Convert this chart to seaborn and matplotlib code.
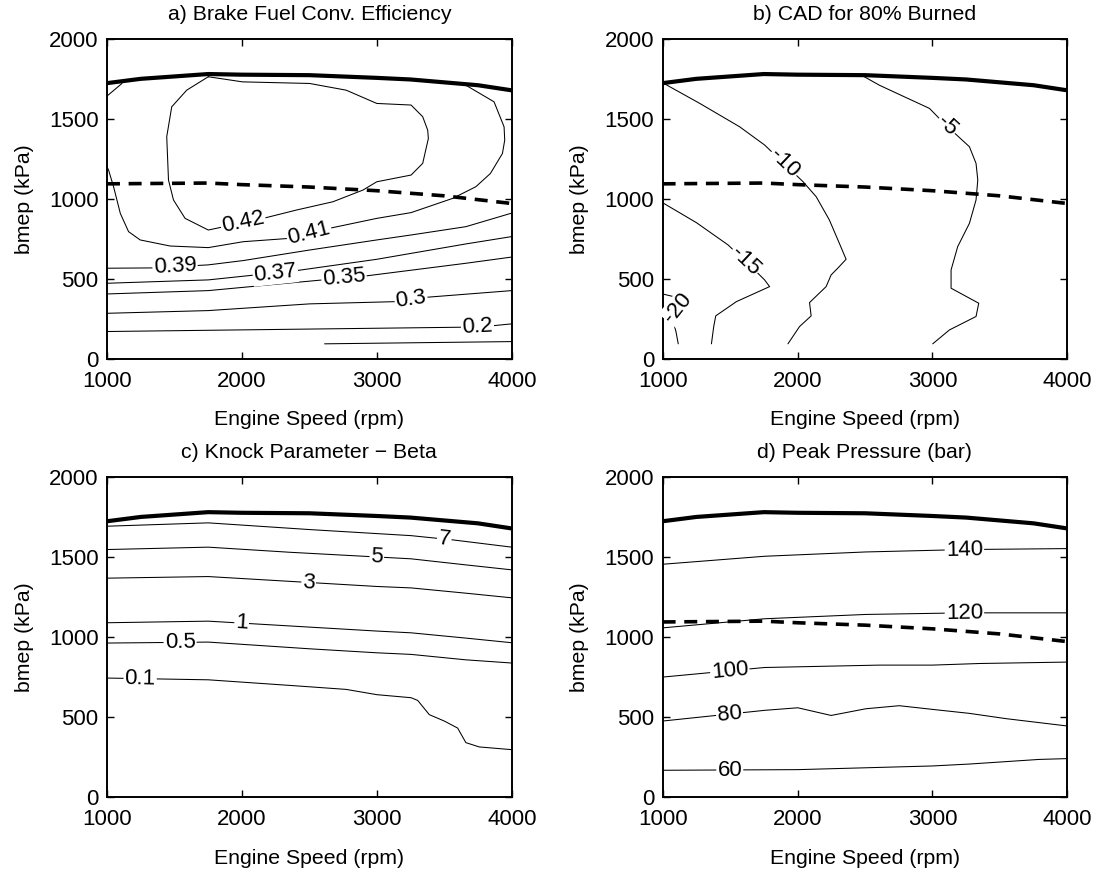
import numpy as np
import matplotlib
matplotlib.use("Agg")
import matplotlib.pyplot as plt
import seaborn as sns

# ---------------- data ----------------
speed_ticks = [1000, 2000, 3000, 4000]
bmep_ticks = [0, 500, 1000, 1500, 2000]

# full-load (max bmep) line -- thick solid
maxload_x = [1000, 1250, 1750, 2000, 2500, 3000, 3250, 3500, 3750, 4000]
maxload_y = [1725, 1752, 1782, 1778, 1775, 1758, 1748, 1730, 1712, 1680]

# dashed boundary line
dashed_x = [1000, 1750, 2000, 2500, 3000, 3500, 4000]
dashed_y = [1095, 1100, 1090, 1075, 1052, 1020, 972]

# a) Brake fuel conversion efficiency contours
a_042_x = [1751, 1591, 1480, 1443, 1456, 1493, 1579, 1751, 2158, 2404, 2675, 2897, 3000, 3254, 3340, 3382, 3377, 3340, 3254, 3000, 2773, 2502, 2005, 1751]
a_042_y = [1765, 1681, 1577, 1390, 1119, 994, 879, 806, 879, 931, 983, 1056, 1108, 1150, 1223, 1379, 1431, 1515, 1588, 1598, 1681, 1723, 1733, 1765]
a_041a_x = [1000, 1111]
a_041a_y = [1644, 1723]
a_041b_x = [3660, 3869, 3943, 3948, 3931, 3842, 3734, 3562, 3254, 3000, 2650, 2355, 2010, 1751, 1468, 1246, 1160, 1099, 1049, 1012, 1000]
a_041b_y = [1712, 1608, 1452, 1369, 1285, 1160, 1077, 1004, 915, 879, 817, 754, 733, 696, 706, 744, 796, 910, 1077, 1181, 1202]
a_039_x = [1000, 1345, 1751, 2010, 2502, 3000, 3254, 3660, 4000]
a_039_y = [567, 569, 588, 615, 681, 744, 775, 827, 912]
a_037_x = [1000, 1751, 2404, 3000, 3660, 4000]
a_037_y = [473, 494, 552, 623, 719, 765]
a_035_x = [1000, 1751, 2600, 2921, 3660, 4000]
a_035_y = [406, 427, 494, 519, 598, 637]
a_030_x = [1000, 1751, 2502, 3143, 3364, 4000]
a_030_y = [285, 302, 344, 358, 385, 427]
a_020_x = [1000, 3635, 3869, 4000]
a_020_y = [171, 198, 208, 219]
a_010_x = [2613, 4000]
a_010_y = [94, 108]

# b) CAD for 80% burned
b_m5_x = [2495, 2607, 2778, 2978, 3090, 3274, 3323, 3336, 3323, 3274, 3187, 3138, 3138, 3343, 3323, 3126, 3002]
b_m5_y = [1765, 1712, 1645, 1567, 1470, 1327, 1223, 1119, 994, 848, 702, 556, 442, 348, 265, 181, 94]
b_m10_x = [1010, 1276, 1571, 1756, 2039, 2138, 2236, 2310, 2360, 2298, 2249, 2212, 2089, 2101, 2015, 1929]
b_m10_y = [1723, 1598, 1452, 1338, 1110, 1015, 869, 723, 623, 567, 525, 452, 352, 269, 202, 94]
b_m15_x = [1000, 1251, 1485, 1719, 1756, 1793, 1547, 1394, 1379, 1362]
b_m15_y = [977, 852, 713, 525, 494, 452, 358, 269, 202, 94]
b_m20_x = [1000, 1079, 1125, 1067, 1099, 1116]
b_m20_y = [406, 390, 330, 269, 171, 94]

# c) Knock parameter - Beta
c_7_x = [1000, 1751, 2502, 3254, 3567, 4000]
c_7_y = [1694, 1715, 1673, 1635, 1608, 1563]
c_5_x = [1000, 1751, 2355, 3254, 3660, 4000]
c_5_y = [1548, 1563, 1531, 1490, 1452, 1421]
c_3_x = [1000, 1751, 3000, 3254, 3660, 4000]
c_3_y = [1369, 1379, 1317, 1308, 1275, 1246]
c_1_x = [1000, 1751, 3000, 3254, 3660, 4000]
c_1_y = [1090, 1100, 1038, 1027, 994, 965]
c_05_x = [1000, 1751, 2502, 3000, 3254, 3660, 4000]
c_05_y = [963, 969, 927, 902, 892, 858, 838]
c_01_x = [1000, 1751, 2355, 2773, 3000, 3254, 3303, 3389, 3500, 3599, 3660, 3759, 4000]
c_01_y = [744, 733, 698, 673, 640, 621, 604, 515, 475, 431, 340, 313, 296]

# d) Peak pressure (bar)
d_140_x = [1000, 1756, 2507, 3237, 4000]
d_140_y = [1456, 1506, 1533, 1548, 1554]
d_120_x = [1000, 1756, 2507, 3237, 4000]
d_120_y = [1058, 1115, 1142, 1152, 1152]
d_100_x = [1000, 1756, 2607, 3000, 3348, 4000]
d_100_y = [750, 810, 825, 825, 835, 844]
d_80_x = [1000, 1756, 2002, 2249, 2507, 2754, 3000, 3274, 3545, 4000]
d_80_y = [475, 542, 558, 510, 552, 571, 548, 523, 490, 444]
d_60_x = [1000, 2002, 3000, 3274, 3793, 4000]
d_60_y = [167, 171, 194, 206, 235, 240]

titles = ["a) Brake Fuel Conv. Efficiency", "b) CAD for 80% Burned",
          "c) Knock Parameter \u2212 Beta", "d) Peak Pressure (bar)"]
xlabel = "Engine Speed (rpm)"
ylabel = "bmep (kPa)"

# contours per panel: (x, y, label text or None, label anchor or None)
panels = [
    dict(dashed=True, contours=[
        (a_042_x, a_042_y, "0.42", (2010, 852)),
        (a_041a_x, a_041a_y, None, None),
        (a_041b_x, a_041b_y, "0.41", (2498, 785)),
        (a_039_x, a_039_y, "0.39", (1505, 572)),
        (a_037_x, a_037_y, "0.37", (2249, 530)),
        (a_035_x, a_035_y, "0.35", (2757, 505)),
        (a_030_x, a_030_y, "0.3", (3254, 370)),
        (a_020_x, a_020_y, "0.2", (3746, 202)),
        (a_010_x, a_010_y, None, None),
    ]),
    dict(dashed=True, contours=[
        (b_m5_x, b_m5_y, "-5", (3110, 1460)),
        (b_m10_x, b_m10_y, "-10", (1897, 1219)),
        (b_m15_x, b_m15_y, "-15", (1610, 610)),
        (b_m20_x, b_m20_y, "-20", (1100, 330)),
    ]),
    dict(dashed=False, contours=[
        (c_7_x, c_7_y, "7", (3500, 1615)),
        (c_5_x, c_5_y, "5", (3000, 1500)),
        (c_3_x, c_3_y, "3", (2495, 1344)),
        (c_1_x, c_1_y, "1", (1998, 1085)),
        (c_05_x, c_05_y, "0.5", (1542, 965)),
        (c_01_x, c_01_y, "0.1", (1246, 740)),
    ]),
    dict(dashed=True, contours=[
        (d_140_x, d_140_y, "140", (3237, 1548)),
        (d_120_x, d_120_y, "120", (3237, 1152)),
        (d_100_x, d_100_y, "100", (1498, 790)),
        (d_80_x, d_80_y, "80", (1498, 505)),
        (d_60_x, d_60_y, "60", (1498, 168)),
    ]),
]

# ---------------- styling ----------------
sns.set_theme(style="ticks")
plt.rcParams['font.family'] = ['Liberation Sans', 'DejaVu Sans']
plt.rcParams['xtick.direction'] = 'in'
plt.rcParams['ytick.direction'] = 'in'

fig = plt.figure(figsize=(10.97, 8.71), dpi=100)
positions = [[0.0975, 0.588, 0.369, 0.367], [0.604, 0.588, 0.369, 0.367],
             [0.0975, 0.085, 0.369, 0.367], [0.604, 0.085, 0.369, 0.367]]


def place_label(ax, xs, ys, lx, ly, text):
    pts = ax.transData.transform(np.column_stack([xs, ys]).astype(float))
    p = ax.transData.transform([(lx, ly)])[0]
    best = None
    for i in range(len(pts) - 1):
        a, b = pts[i], pts[i + 1]
        d = b - a
        L2 = d @ d
        t = 0.0 if L2 == 0 else np.clip((p - a) @ d / L2, 0, 1)
        q = a + t * d
        dist = np.hypot(*(p - q))
        if best is None or dist < best[0]:
            best = (dist, q, d)
    _, q, d = best
    ang = np.degrees(np.arctan2(d[1], d[0]))
    if ang > 90:
        ang -= 180
    if ang < -90:
        ang += 180
    qd = ax.transData.inverted().transform(q)
    ax.text(qd[0], qd[1], text, rotation=ang, rotation_mode='anchor',
            ha='center', va='center', fontsize=16, color='black',
            bbox=dict(fc='white', ec='none', pad=0.8), zorder=6)


for i, (pos, panel) in enumerate(zip(positions, panels)):
    ax = fig.add_axes(pos)
    ax.set_xlim(1000, 4000)
    ax.set_ylim(0, 2000)
    ax.set_xticks(speed_ticks)
    ax.set_yticks(bmep_ticks)
    ax.tick_params(axis='both', which='both', direction='in', length=5, width=1,
                   top=True, right=True, labelsize=16, colors='black')
    ax.tick_params(axis='x', pad=9)
    ax.tick_params(axis='y', pad=6)
    for s in ax.spines.values():
        s.set_linewidth(1.4)
        s.set_color('black')
        s.set_visible(True)

    for xs, ys, txt, anchor in panel["contours"]:
        sns.lineplot(x=xs, y=ys, sort=False, estimator=None, color='black',
                     linewidth=0.75, ax=ax, legend=False)
    sns.lineplot(x=maxload_x, y=maxload_y, sort=False, estimator=None,
                 color='black', linewidth=3.0, ax=ax, legend=False)
    if panel["dashed"]:
        sns.lineplot(x=dashed_x, y=dashed_y, sort=False, estimator=None,
                     color='black', linewidth=2.6, linestyle=(0, (3.6, 2.4)),
                     ax=ax, legend=False)
    for xs, ys, txt, anchor in panel["contours"]:
        if txt is not None:
            place_label(ax, xs, ys, anchor[0], anchor[1], txt)

    ax.set_title(titles[i], fontsize=15.3, pad=14, color='black')
    ax.set_xlabel(xlabel, fontsize=15.3, labelpad=13, color='black')
    ax.set_ylabel(ylabel, fontsize=15.3, labelpad=11, color='black')

fig.savefig("out.png", dpi=100)
